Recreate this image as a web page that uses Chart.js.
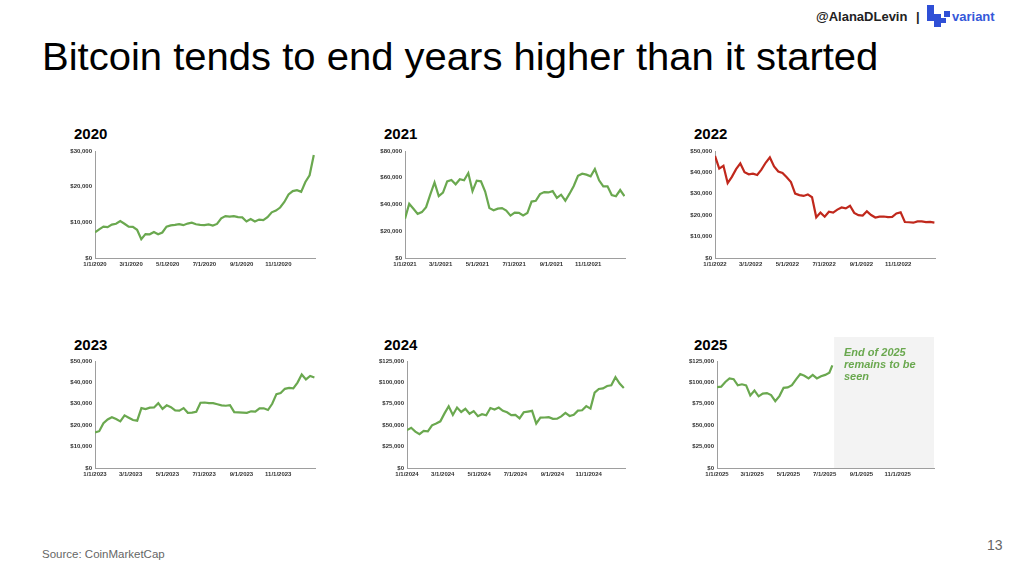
<!DOCTYPE html>
<html>
<head>
<meta charset="utf-8">
<script src="https://cdn.jsdelivr.net/npm/chart.js@4.4.1/dist/chart.umd.min.js"></script>
<style>
  body { margin: 0; background: #fff; font-family: Arial, "Liberation Sans", sans-serif; }
  #page { position: relative; width: 1024px; height: 574px; overflow: hidden; }
  .abs { position: absolute; white-space: nowrap; }
  .year { font-size: 15px; line-height: 15px; font-weight: bold; color: #000; }
  canvas { position: absolute; }
  .sq { position: absolute; background: #2f4fd6; }
</style>
</head>
<body>
<div id="page">
  <div class="abs" style="left:816px;top:10px;font-size:13px;line-height:13px;font-weight:bold;color:#222;">@AlanaDLevin</div>
  <div class="abs" style="left:916px;top:10px;font-size:13px;line-height:13px;font-weight:bold;color:#222;">|</div>
  <div class="sq" style="left:927px;top:5px;width:7px;height:16px;"></div>
  <div class="sq" style="left:934px;top:14px;width:7px;height:7px;"></div>
  <div class="sq" style="left:934px;top:21px;width:7px;height:6px;"></div>
  <div class="sq" style="left:941px;top:18px;width:5px;height:5px;"></div>
  <div class="sq" style="left:944px;top:11px;width:6px;height:6px;"></div>
  <div class="abs" style="left:952px;top:10px;font-size:13px;line-height:13px;font-weight:bold;color:#3558d9;">variant</div>

  <div class="abs" style="left:42px;top:38px;font-size:38px;line-height:38px;color:#000;transform:scaleX(1.053);transform-origin:0 0;">Bitcoin tends to end years higher than it started</div>

  <div class="abs year" style="left:74px;top:126px;">2020</div>
  <div class="abs year" style="left:384px;top:126px;">2021</div>
  <div class="abs year" style="left:694px;top:126px;">2022</div>
  <div class="abs year" style="left:74px;top:337px;">2023</div>
  <div class="abs year" style="left:384px;top:337px;">2024</div>
  <div class="abs year" style="left:694px;top:337px;">2025</div>

  <canvas id="c2020" style="left:55px;top:143px;" width="264" height="129"></canvas>
  <canvas id="c2021" style="left:365px;top:143px;" width="264" height="129"></canvas>
  <canvas id="c2022" style="left:675px;top:143px;" width="264" height="129"></canvas>
  <canvas id="c2023" style="left:55px;top:330px;" width="264" height="152"></canvas>
  <canvas id="c2024" style="left:367px;top:330px;" width="262" height="152"></canvas>
  <canvas id="c2025" style="left:677px;top:330px;" width="261" height="152"></canvas>

  <div class="abs" style="left:844px;top:346px;font-size:11px;line-height:12px;font-weight:bold;font-style:italic;color:#6aa84f;">End of 2025<br>remains to be<br>seen</div>

  <div class="abs" style="left:42px;top:548px;font-size:11.5px;line-height:12px;color:#666;">Source: CoinMarketCap</div>
  <div class="abs" style="left:987px;top:538px;font-size:14px;line-height:14px;color:#666;">13</div>
</div>
<script>
// day of year for each weekly reading
var weekDays = [0, 7, 14, 21, 28, 35, 42, 49, 56, 63, 70, 77, 84, 91, 98, 105, 112, 119, 126, 133,
  140, 147, 154, 161, 168, 175, 182, 189, 196, 203, 210, 217, 224, 231, 238, 245, 252, 259, 266,
  273, 280, 287, 294, 301, 308, 315, 322, 329, 336, 343, 350, 357, 364];
var days2025 = [0, 7, 14, 21, 28, 35, 42, 49, 56, 63, 70, 77, 84, 91, 98, 105, 112, 119, 126, 133,
  140, 147, 154, 161, 168, 175, 182, 189, 194];

var price2020 = [7200, 8050, 8800, 8650, 9350, 9600, 10350, 9600, 8800, 8750, 7900, 5300, 6700, 6650,
  7300, 6650, 7150, 8800, 9150, 9300, 9500, 9200, 9650, 9900, 9450, 9300, 9230, 9430, 9100, 9550,
  11100, 11750, 11600, 11750, 11480, 11400, 10250, 10950, 10250, 10780, 10600, 11430, 12800, 13280,
  14150, 15700, 17800, 18750, 19000, 18550, 21300, 23200, 28900];
var price2021 = [29400, 40600, 36800, 33000, 34300, 38000, 47600, 56500, 46300, 48900, 57300, 58300,
  55100, 58900, 58100, 63500, 50000, 57800, 57300, 49700, 37300, 35700, 36900, 37300, 35500, 31700,
  33900, 33800, 31800, 33600, 42200, 42800, 47800, 49300, 49000, 50000, 44900, 47300, 42800, 48100,
  53900, 61500, 63000, 62300, 61100, 66500, 58100, 53600, 53600, 47100, 46200, 50800, 46300];
var price2022 = [47700, 41800, 43100, 35000, 37900, 41500, 44200, 40100, 39100, 39400, 38800, 41300,
  44500, 47000, 42800, 40400, 39700, 37700, 35500, 30100, 29400, 29000, 29700, 28400, 19000, 21200,
  19300, 21600, 21200, 22600, 23600, 23200, 24400, 21100, 20000, 19800, 21800, 20100, 18900, 19300,
  19400, 19100, 19200, 20800, 21300, 16800, 16700, 16500, 17100, 17100, 16800, 16850, 16550];
var price2023 = [16600, 17200, 20900, 22700, 23700, 22900, 21800, 24600, 23500, 22400, 22100, 28000,
  27500, 28200, 28300, 30300, 27600, 29300, 28400, 26900, 26800, 28000, 25800, 25900, 26300, 30500,
  30600, 30300, 30300, 29800, 29300, 29100, 29400, 26100, 26000, 25900, 25800, 26500, 26300, 27900,
  27900, 27100, 30000, 34500, 35000, 37000, 37400, 37200, 39900, 43700, 41400, 43000, 42300];
var price2024 = [44200, 47000, 42500, 39500, 43300, 42700, 49900, 52100, 54500, 63800, 72100, 62000,
  70600, 65500, 69100, 63400, 66400, 60600, 62900, 61600, 70100, 68400, 70600, 66800, 65100, 61800,
  62100, 58000, 65100, 65900, 66800, 52000, 58900, 59000, 59400, 57500, 57600, 60300, 64300, 60800,
  62100, 67000, 67400, 72300, 69400, 88000, 92300, 93000, 95800, 96600, 106100, 98600, 93400];
var price2025 = [94400, 95000, 100500, 104600, 103700, 96600, 97800, 96600, 84700, 90600, 83700,
  86900, 87500, 85200, 78000, 84000, 93700, 94200, 96800, 103500, 109700, 107800, 104700, 108700,
  104600, 107100, 108800, 111300, 119800];

var tickDaysLeap = [0, 60, 121, 182, 244, 305];
var tickDaysNormal = [0, 59, 120, 181, 243, 304];
function tickLabels(year) {
  return ['1/1/', '3/1/', '5/1/', '7/1/', '9/1/', '11/1/'].map(function (m) { return m + year; });
}

var green = '#6aa84f';
var red = '#c0281c';
var shadeFrom2025 = 197;
var tickFont = { family: 'Arial, "Liberation Sans"', size: 6, weight: 'bold' };

function makeChart(year, days, values, yMax, yStep, color, leap, padTop) {
  var tDays = leap ? tickDaysLeap : tickDaysNormal;
  var tLabels = tickLabels(year);
  var points = days.map(function (d, i) { return { x: d, y: values[i] }; });
  var shade = {
    id: 'shade',
    beforeDraw: function (chart) {
      if (year !== 2025) return;
      var ctx = chart.ctx, area = chart.chartArea;
      var x0 = chart.scales.x.getPixelForValue(shadeFrom2025);
      ctx.save();
      ctx.fillStyle = '#f3f3f3';
      ctx.fillRect(x0, 7, area.right - x0, area.bottom - 7);
      ctx.restore();
    }
  };
  return new Chart(document.getElementById('c' + year), {
    type: 'line',
    data: {
      datasets: [{
        data: points,
        borderColor: color,
        borderWidth: 2.2,
        pointRadius: 0,
        tension: 0,
        fill: false
      }]
    },
    options: {
      responsive: false,
      animation: false,
      layout: { padding: { left: 0, right: 4, top: padTop, bottom: 0 } },
      plugins: { legend: { display: false }, tooltip: { enabled: false } },
      scales: {
        x: {
          type: 'linear',
          min: 0,
          max: leap ? 366 : 365,
          grid: { display: false, drawTicks: false, tickLength: 0 },
          border: { display: true, color: '#9e9e9e', width: 1 },
          afterBuildTicks: function (scale) {
            scale.ticks = tDays.map(function (v) { return { value: v }; });
          },
          afterFit: function (scale) { scale.height = 14; },
          ticks: {
            autoSkip: false,
            maxRotation: 0,
            padding: 3,
            color: '#333',
            font: tickFont,
            callback: function (v, i) { return tLabels[i]; }
          }
        },
        y: {
          min: 0,
          max: yMax,
          grid: { display: false, drawTicks: false, tickLength: 0 },
          border: { display: true, color: '#9e9e9e', width: 1 },
          afterFit: function (scale) { scale.width = 40; },
          ticks: {
            stepSize: yStep,
            padding: 3,
            color: '#333',
            font: tickFont,
            callback: function (v) { return '$' + v.toLocaleString('en-US'); }
          }
        }
      }
    },
    plugins: [shade]
  });
}

makeChart(2020, weekDays, price2020, 30000, 10000, green, true, 8);
makeChart(2021, weekDays, price2021, 80000, 20000, green, false, 8);
makeChart(2022, weekDays, price2022, 50000, 10000, red, false, 8);
makeChart(2023, weekDays, price2023, 50000, 10000, green, false, 31);
makeChart(2024, weekDays, price2024, 125000, 25000, green, true, 31);
makeChart(2025, days2025, price2025, 125000, 25000, green, false, 31);
</script>
</body>
</html>
